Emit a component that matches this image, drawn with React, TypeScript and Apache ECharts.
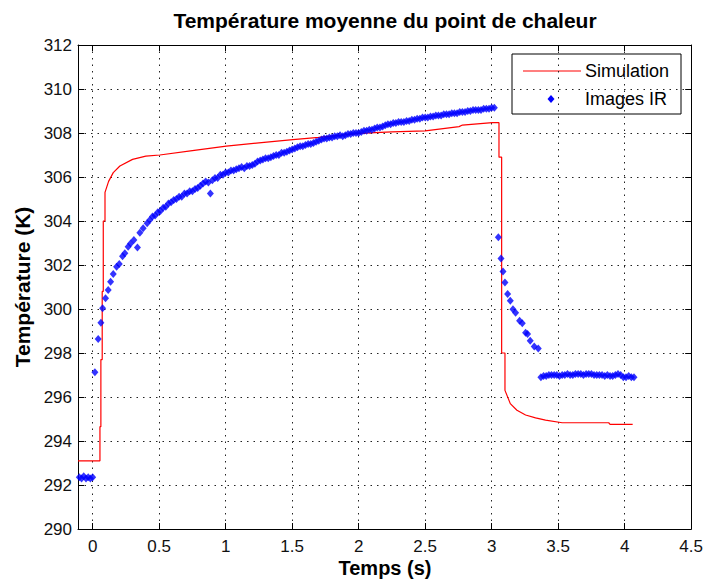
import React, { useEffect, useRef } from "react";
import * as echarts from "echarts";

const TITLE = "Température moyenne du point de chaleur";
const X_NAME = "Temps (s)";
const Y_NAME = "Température (K)";
const SIM_NAME = "Simulation";
const IR_NAME = "Images IR";

const xTicks = [0, 0.5, 1, 1.5, 2, 2.5, 3, 3.5, 4, 4.5];

// Simulation (red line)
const simT = [-0.11, 0.055, 0.055, 0.062, 0.062, 0.072, 0.072, 0.08, 0.08, 0.093, 0.093, 0.12, 0.155, 0.205, 0.3, 0.4, 0.505, 0.75, 1.005, 1.25, 1.505, 1.7, 2.0, 2.25, 2.5, 2.755, 2.78, 3.005, 3.055, 3.055, 3.075, 3.075, 3.1, 3.1, 3.14, 3.19, 3.255, 3.33, 3.405, 3.53, 3.88, 3.89, 4.06];
const simTemp = [293.1, 293.1, 294.65, 294.65, 297.7, 297.7, 300.8, 300.8, 304.0, 304.0, 305.3, 305.8, 306.2, 306.5, 306.8, 306.95, 307.0, 307.2, 307.4, 307.55, 307.7, 307.8, 307.98, 308.05, 308.1, 308.29, 308.36, 308.47, 308.47, 306.9, 306.9, 298.0, 298.0, 296.3, 295.7, 295.4, 295.18, 295.05, 294.95, 294.83, 294.83, 294.76, 294.76];

// Images IR (blue markers)
const irBaseT = [-0.1, -0.083, -0.067, -0.05, -0.033, -0.017, 0.0];
const irBaseTemp = [292.35, 292.3, 292.4, 292.3, 292.35, 292.3, 292.35];

const irRiseT = [0.017, 0.042, 0.062, 0.075, 0.097, 0.117, 0.135, 0.155, 0.18, 0.2, 0.225, 0.242, 0.267, 0.285, 0.31, 0.337, 0.355, 0.38, 0.41];
const irRiseTemp = [297.12, 298.64, 299.38, 300.03, 300.49, 300.86, 301.24, 301.59, 301.92, 302.05, 302.4, 302.53, 302.83, 302.98, 303.14, 302.79, 303.47, 303.67, 303.9];

const irHeatT = [
  0.43, 0.45, 0.47, 0.49, 0.51, 0.53, 0.55, 0.57, 0.59, 0.61, 0.63, 0.65, 0.67, 0.69, 0.71, 0.73, 0.75, 0.77, 0.79, 0.81,
  0.83, 0.85, 0.87, 0.885, 0.9, 0.92, 0.94, 0.96, 0.98, 1.0, 1.02, 1.04, 1.06, 1.08, 1.1, 1.12, 1.14, 1.16, 1.18, 1.2,
  1.22, 1.24, 1.26, 1.28, 1.3, 1.32, 1.34, 1.36, 1.38, 1.4, 1.42, 1.44, 1.46, 1.48, 1.5, 1.52, 1.54, 1.56, 1.58, 1.6,
  1.62, 1.64, 1.66, 1.68, 1.7, 1.72, 1.74, 1.76, 1.78, 1.8, 1.82, 1.84, 1.86, 1.88, 1.9, 1.92, 1.94, 1.96, 1.98, 2.0,
  2.02, 2.04, 2.06, 2.08, 2.1, 2.12, 2.14, 2.16, 2.18, 2.2, 2.22, 2.24, 2.26, 2.28, 2.3, 2.32, 2.34, 2.36, 2.38, 2.4,
  2.42, 2.44, 2.46, 2.48, 2.5, 2.52, 2.54, 2.56, 2.58, 2.6, 2.62, 2.64, 2.66, 2.68, 2.7, 2.72, 2.74, 2.76, 2.78, 2.8,
  2.82, 2.84, 2.86, 2.88, 2.9, 2.92, 2.94, 2.96, 2.98, 3.0, 3.02,
];
const irHeatTemp = [
  304.05, 304.2, 304.25, 304.4, 304.45, 304.6, 304.65, 304.8, 304.85, 304.95, 305.0, 305.1, 305.1, 305.25, 305.25, 305.35, 305.35, 305.45, 305.5, 305.6,
  305.7, 305.8, 305.75, 305.25, 305.85, 305.95, 305.95, 306.1, 306.1, 306.2, 306.2, 306.3, 306.3, 306.35, 306.4, 306.45, 306.4, 306.5, 306.5, 306.55,
  306.6, 306.7, 306.75, 306.8, 306.85, 306.85, 306.9, 306.95, 307.0, 307.0, 307.1, 307.1, 307.15, 307.2, 307.25, 307.3, 307.35, 307.4, 307.4, 307.45,
  307.5, 307.5, 307.55, 307.6, 307.65, 307.7, 307.75, 307.75, 307.8, 307.8, 307.85, 307.85, 307.9, 307.85, 307.9, 307.95, 307.95, 308.0, 308.0, 308.0,
  308.05, 308.1, 308.1, 308.15, 308.15, 308.2, 308.25, 308.25, 308.3, 308.35, 308.4, 308.4, 308.45, 308.45, 308.5, 308.5, 308.5, 308.55, 308.55, 308.6,
  308.6, 308.65, 308.65, 308.7, 308.7, 308.7, 308.75, 308.75, 308.8, 308.8, 308.8, 308.85, 308.85, 308.85, 308.9, 308.9, 308.9, 308.95, 308.95, 308.95,
  309.0, 309.0, 309.05, 309.05, 309.05, 309.05, 309.1, 309.1, 309.1, 309.15, 309.15,
];

const irDropT = [3.05, 3.07, 3.085, 3.1, 3.12, 3.14, 3.16, 3.18, 3.21, 3.23, 3.255, 3.27, 3.29, 3.32, 3.35];
const irDropTemp = [303.26, 302.3, 301.7, 301.2, 300.68, 300.38, 299.99, 299.83, 299.47, 299.35, 298.92, 298.86, 298.56, 298.29, 298.21];

const irCoolT = [
  3.37, 3.39, 3.41, 3.43, 3.45, 3.47, 3.49, 3.51, 3.53, 3.55, 3.57, 3.59, 3.61, 3.63, 3.65, 3.67, 3.69, 3.71,
  3.73, 3.75, 3.77, 3.79, 3.81, 3.83, 3.85, 3.87, 3.89, 3.91, 3.93, 3.95, 3.97, 3.99, 4.01, 4.03, 4.05, 4.07,
];
const irCoolTemp = [
  296.9, 296.95, 296.95, 297.0, 297.0, 297.0, 297.0, 296.95, 297.0, 297.0, 297.05, 297.0, 297.0, 297.05, 297.05, 297.05, 297.0, 297.05,
  297.05, 297.05, 297.0, 297.0, 297.0, 297.0, 296.95, 297.0, 296.95, 296.95, 297.0, 297.05, 297.0, 296.9, 296.9, 296.95, 296.9, 296.9,
];

const FONT = "'Liberation Sans', Arial, Helvetica, sans-serif";

function pairs(a: number[], b: number[]) {
  return a.map((v, i) => [v, b[i]]);
}

export default function App() {
  const ref = useRef<HTMLDivElement>(null);
  useEffect(() => {
    const chart = echarts.init(ref.current!, null, { renderer: "svg" });
    const simData = pairs(simT, simTemp);
    const irData = [
      ...pairs(irBaseT, irBaseTemp),
      ...pairs(irRiseT, irRiseTemp),
      ...pairs(irHeatT, irHeatTemp),
      ...pairs(irDropT, irDropTemp),
      ...pairs(irCoolT, irCoolTemp),
    ];
    const gridLine = { show: true, lineStyle: { color: "#222", width: 1, type: [1.5, 5] as any } };
    const axisLine = { show: true, onZero: false, lineStyle: { color: "#000", width: 1 } };
    const option: any = {
      animation: false,
      backgroundColor: "#fff",
      grid: { left: 78, right: 13, top: 45, bottom: 54, containLabel: false },
      xAxis: [
        {
          type: "value",
          min: -0.11,
          max: 4.5,
          position: "bottom",
          axisLine,
          axisTick: { show: true, inside: true, length: 6, customValues: xTicks, lineStyle: { color: "#000" } },
          axisLabel: { customValues: xTicks, color: "#111", fontFamily: FONT, fontSize: 17, margin: 9, showMinLabel: true, showMaxLabel: true },
          splitLine: gridLine,
        },
        {
          type: "value",
          min: -0.11,
          max: 4.5,
          position: "top",
          axisLine,
          axisTick: { show: true, inside: true, length: 6, customValues: xTicks, lineStyle: { color: "#000" } },
          axisLabel: { show: false },
          splitLine: { show: false },
        },
      ],
      yAxis: [
        {
          type: "value",
          min: 290,
          max: 312,
          interval: 2,
          position: "left",
          axisLine,
          axisTick: { show: true, inside: true, length: 6, lineStyle: { color: "#000" } },
          axisLabel: { color: "#111", fontFamily: FONT, fontSize: 17, margin: 6 },
          splitLine: gridLine,
        },
        {
          type: "value",
          min: 290,
          max: 312,
          interval: 2,
          position: "right",
          axisLine,
          axisTick: { show: true, inside: true, length: 6, lineStyle: { color: "#000" } },
          axisLabel: { show: false },
          splitLine: { show: false },
        },
      ],
      series: [
        {
          name: SIM_NAME,
          type: "line",
          data: simData,
          showSymbol: false,
          symbol: "none",
          lineStyle: { color: "#ff0000", width: 1.2 },
          xAxisIndex: 0,
          yAxisIndex: 0,
          z: 3,
        },
        {
          name: IR_NAME,
          type: "scatter",
          data: irData,
          symbol: "diamond",
          symbolSize: [7, 8],
          itemStyle: { color: "#0000ff" },
          xAxisIndex: 0,
          yAxisIndex: 0,
          z: 4,
        },
      ],
      graphic: [
        {
          type: "text",
          x: 385,
          y: 20,
          style: { text: TITLE, font: `bold 21px ${FONT}`, fill: "#000", align: "center", verticalAlign: "middle" },
        },
        {
          type: "text",
          x: 385,
          y: 568,
          style: { text: X_NAME, font: `bold 20px ${FONT}`, fill: "#000", align: "center", verticalAlign: "middle" },
        },
        {
          type: "text",
          x: 22,
          y: 287,
          rotation: Math.PI / 2,
          style: { text: Y_NAME, font: `bold 21px ${FONT}`, fill: "#000", align: "center", verticalAlign: "middle" },
        },
        {
          type: "group",
          z: 100,
          children: [
            {
              type: "rect",
              shape: { x: 512, y: 54, width: 169, height: 60 },
              style: { fill: "#fff", stroke: "#000", lineWidth: 1 },
            },
            {
              type: "line",
              shape: { x1: 523, y1: 71, x2: 581, y2: 71 },
              style: { stroke: "#ff0000", lineWidth: 1.2 },
            },
            {
              type: "text",
              x: 585,
              y: 71,
              style: { text: SIM_NAME, font: `18px ${FONT}`, fill: "#000", align: "left", verticalAlign: "middle" },
            },
            {
              type: "polygon",
              shape: { points: [[551, 95], [554.5, 99], [551, 103], [547.5, 99]] },
              style: { fill: "#0000ff" },
            },
            {
              type: "text",
              x: 585,
              y: 99,
              style: { text: IR_NAME, font: `18px ${FONT}`, fill: "#000", align: "left", verticalAlign: "middle" },
            },
          ],
        },
      ],
    };
    chart.setOption(option);
    return () => chart.dispose();
  }, []);
  return (
    <div
      ref={ref}
      style={{ position: "fixed", left: 0, top: 0, width: 706, height: 583, background: "#fff" }}
    />
  );
}
